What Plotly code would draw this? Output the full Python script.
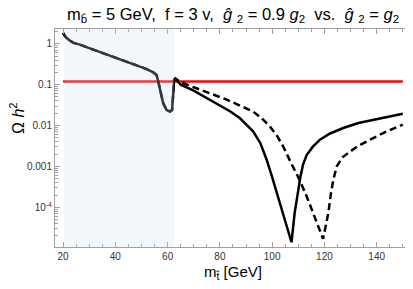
import numpy as np
import plotly.graph_objects as go

# Shared low-mass branch (both curves overlap here)
x_common = [20, 20.5, 21.3, 22.5, 24, 26.4, 30, 35.3, 41.7, 48.1, 52, 54.5, 55.8,
            56.4, 57.3, 58.3, 59.6, 60.9, 61.7, 62.1, 62.5]
y_common = [1.85, 1.6, 1.4, 1.2, 1.05, 0.95, 0.78, 0.59, 0.42, 0.3, 0.24, 0.2, 0.17,
            0.12, 0.063, 0.035, 0.024, 0.022, 0.024, 0.063, 0.132]

# g2hat = 0.9 g2 (solid)
x_solid = [62.9, 65, 69.8, 75, 80, 84, 87.7, 92.7, 95.5, 97.9, 100, 101.7, 104.2,
           105.5, 107.4, 108.6, 109.9, 110.8, 111.8, 113.2, 115.5, 118.3, 122, 127.2,
           133, 140, 145, 150]
y_solid = [0.14, 0.1, 0.072, 0.047, 0.032, 0.022, 0.015, 0.0072, 0.0037, 0.00146,
           5.5e-4, 2.4e-4, 6.6e-5, 3.5e-5, 1.4e-5, 7.2e-5, 2.7e-4, 5.5e-4, 1.1e-3,
           0.0019, 0.003, 0.0045, 0.0063, 0.0087, 0.0115, 0.0145, 0.017, 0.0195]

# g2hat = g2 (dashed)
x_dashed = [62.9, 65, 69.8, 76, 82.6, 88, 92.7, 96, 99.1, 101.7, 104.2, 107, 110.5,
            113, 115.7, 117.5, 118.9, 119.5, 120.5, 121.5, 122.5, 123.4, 124.7, 127,
            129.8, 133, 137.5, 143, 150]
y_dashed = [0.14, 0.115, 0.087, 0.062, 0.043, 0.03, 0.022, 0.015, 0.0095, 0.0058,
            0.0031, 0.0013, 4.7e-4, 2.0e-4, 7.3e-5, 3.8e-5, 2.1e-5, 1.7e-5, 3.5e-5,
            7.3e-5, 2.2e-4, 4.7e-4, 0.001, 0.0017, 0.0023, 0.0032, 0.0045, 0.0068, 0.0105]

# Observed relic density
relic_x = [20, 150]
relic_y = [0.12, 0.12]

# Excluded region (invisible Higgs decays)
shade_x = [20.5, 62.5]

x_ticks = [20, 40, 60, 80, 100, 120, 140]
y_ticks = [1, 0.1, 0.01, 0.001, 1e-4]
y_ticktext = ["1", "0.1", "0.01", "0.001", "10<sup>-4</sup>"]
y_minor = [m * 10.0 ** e for e in range(-6, 1) for m in range(2, 10)]

fig = go.Figure()
fig.add_trace(go.Scatter(x=relic_x, y=relic_y, mode="lines",
                         line=dict(color="#ff0000", width=2.5), showlegend=False))
fig.add_trace(go.Scatter(x=x_common + x_dashed, y=y_common + y_dashed, mode="lines",
                         line=dict(color="black", width=2.5, dash="7px,4px"),
                         showlegend=False))
fig.add_trace(go.Scatter(x=x_common + x_solid, y=y_common + y_solid, mode="lines",
                         line=dict(color="black", width=2.5), showlegend=False))

fig.add_shape(type="rect", xref="x", yref="paper", x0=shade_x[0], x1=shade_x[1],
              y0=0, y1=1, fillcolor="rgba(204,224,244,0.25)", line=dict(width=0),
              layer="above")

axis_common = dict(showgrid=False, zeroline=False, showline=True, linecolor="#a0a0a0",
                   linewidth=1, mirror="allticks", ticks="inside", tickcolor="#a0a0a0",
                   ticklen=5, automargin=False,
                   tickfont=dict(family="Liberation Sans, Arial", size=10, color="#333"))

fig.update_xaxes(range=[16.9, 152.75], tickvals=x_ticks,
                 minor=dict(dtick=5, tick0=0, ticks="inside", ticklen=3,
                            tickcolor="#a0a0a0", showgrid=False),
                 **axis_common)
fig.update_yaxes(type="log", range=[-4.97, 0.36], tickvals=y_ticks, ticktext=y_ticktext,
                 minor=dict(tickvals=y_minor, ticks="inside", ticklen=3,
                            tickcolor="#a0a0a0", showgrid=False),
                 **axis_common)

# page body has an 8px margin, so the layout is shifted up/left by 8px
fig.update_layout(
    width=413, height=289,
    margin=dict(l=47, r=11, t=21, b=50),
    paper_bgcolor="white", plot_bgcolor="white",
    font=dict(family="Liberation Sans, Arial", color="black"),
    annotations=[
        dict(text="m<sub>b\u0302</sub> = 5 GeV,  f = 3 v,  <i>\u011d</i> <sub>2</sub> = 0.9 <i>g</i><sub>2</sub>  vs.  <i>\u011d</i> <sub>2</sub> = <i>g</i><sub>2</sub>",
             x=0.5, xref="paper", y=1, yref="paper", yshift=14, xanchor="center",
             yanchor="middle", showarrow=False, font=dict(size=16.5)),
        dict(text="m<sub>t\u0302</sub> [GeV]", x=0.5, xref="paper", y=0, yref="paper",
             yshift=-25, xanchor="center", yanchor="middle", showarrow=False,
             font=dict(size=15)),
        dict(text="\u03a9 <i>h</i><sup>2</sup>", x=0, xref="paper", y=0.5, yref="paper",
             xshift=-38, yshift=20, xanchor="center", yanchor="middle", textangle=-90,
             showarrow=False, font=dict(size=16)),
    ],
)

fig.write_html("out.html")
